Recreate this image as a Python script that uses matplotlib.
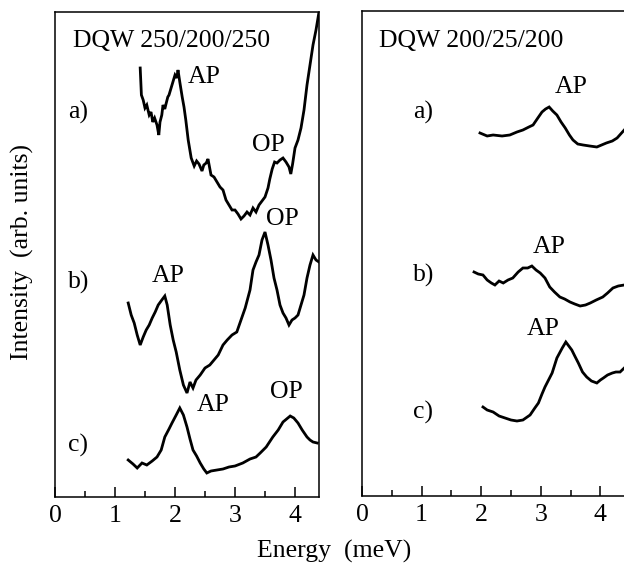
import matplotlib
matplotlib.use("Agg")
import matplotlib.pyplot as plt
from matplotlib.ticker import MultipleLocator

plt.rcParams["font.family"] = ["Liberation Serif", "DejaVu Serif"]

# spectra, intensity in arb. units (height above the baseline)
left_a_x = [1.42, 1.44, 1.47, 1.50, 1.53, 1.57, 1.60, 1.63, 1.66, 1.70, 1.73, 1.75, 1.78, 1.80,
            1.83, 1.85, 1.88, 1.90, 1.93, 1.95, 1.98, 2.00, 2.03, 2.05, 2.08, 2.12, 2.15, 2.18,
            2.22, 2.27, 2.32, 2.36, 2.40, 2.45, 2.48, 2.52, 2.55, 2.60, 2.65, 2.70, 2.75, 2.80,
            2.85, 2.90, 2.95, 3.00, 3.05, 3.10, 3.15, 3.20, 3.25, 3.30, 3.35, 3.40, 3.45, 3.50,
            3.55, 3.58, 3.62, 3.66, 3.70, 3.75, 3.80, 3.85, 3.90, 3.93, 3.96, 4.00, 4.05, 4.10,
            4.15, 4.20, 4.25, 4.30, 4.35, 4.40]
left_a_y = [429, 402, 397, 389, 392, 382, 385, 375, 379, 372, 362, 375, 382, 392,
            388, 393, 400, 402, 408, 412, 418, 422, 419, 427, 415, 400, 390, 377,
            357, 339, 331, 336, 333, 326, 332, 334, 338, 322, 320, 315, 310, 307,
            297, 292, 287, 287, 283, 278, 281, 285, 282, 289, 285, 292, 296, 300,
            309, 318, 328, 335, 334, 337, 339, 335, 330, 323, 333, 349, 357, 369,
            387, 412, 432, 452, 467, 485]

left_b_x = [1.22, 1.27, 1.32, 1.37, 1.42, 1.47, 1.52, 1.57, 1.62, 1.67, 1.72, 1.78, 1.83,
            1.87, 1.92, 1.97, 2.02, 2.08, 2.14, 2.20, 2.25, 2.30, 2.35, 2.42, 2.50, 2.58,
            2.65, 2.72, 2.80, 2.87, 2.95, 3.03, 3.10, 3.17, 3.25, 3.30, 3.35, 3.40, 3.45,
            3.50, 3.55, 3.60, 3.65, 3.70, 3.75, 3.80, 3.85, 3.90, 3.95, 4.00, 4.05, 4.10,
            4.15, 4.20, 4.25, 4.30, 4.35, 4.40]
left_b_y = [194, 182, 174, 162, 152, 160, 167, 172, 179, 185, 192, 197, 201,
            192, 172, 157, 145, 127, 112, 104, 115, 109, 117, 122, 129, 132,
            137, 142, 152, 157, 162, 165, 177, 189, 207, 227, 235, 242, 257,
            265, 252, 237, 219, 207, 192, 184, 179, 172, 177, 179, 182, 192,
            202, 219, 232, 242, 237, 235]

left_c_x = [1.22, 1.30, 1.37, 1.45, 1.53, 1.62, 1.70, 1.77, 1.83, 1.90, 1.95, 2.02, 2.08,
            2.14, 2.20, 2.25, 2.30, 2.36, 2.42, 2.48, 2.53, 2.60, 2.70, 2.80, 2.90, 3.00,
            3.13, 3.25, 3.35, 3.42, 3.52, 3.63, 3.72, 3.80, 3.86, 3.92, 3.98, 4.05, 4.12,
            4.20, 4.25, 4.30, 4.37]
left_c_y = [37, 33, 29, 34, 32, 36, 40, 47, 60, 68, 74, 82, 89,
            82, 70, 58, 47, 41, 34, 28, 24, 26, 27, 28, 30, 31,
            34, 38, 40, 44, 50, 60, 67, 75, 78, 81, 79, 74, 67,
            60, 57, 55, 54]

right_a_x = [1.98, 2.10, 2.20, 2.35, 2.48, 2.60, 2.70, 2.80, 2.87, 2.95, 3.02, 3.08, 3.14,
             3.20, 3.27, 3.34, 3.41, 3.48, 3.54, 3.62, 3.71, 3.82, 3.94, 4.02, 4.10, 4.20,
             4.28, 4.40]
right_a_y = [363, 360, 361, 360, 361, 364, 366, 369, 371, 378, 384, 387, 389,
             385, 381, 374, 368, 361, 356, 352, 351, 350, 349, 351, 353, 355,
             358, 366]

right_b_x = [1.88, 1.95, 2.03, 2.10, 2.17, 2.23, 2.30, 2.37, 2.45, 2.53, 2.62, 2.70, 2.78,
             2.85, 2.92, 2.99, 3.07, 3.15, 3.23, 3.32, 3.40, 3.49, 3.57, 3.66, 3.75, 3.83,
             3.93, 4.04, 4.12, 4.21, 4.30, 4.40]
right_b_y = [224, 222, 221, 216, 213, 211, 215, 213, 216, 218, 224, 228, 228,
             230, 226, 223, 218, 209, 204, 199, 197, 194, 192, 190, 191, 193,
             196, 199, 203, 208, 210, 211]

right_c_x = [2.03, 2.10, 2.20, 2.30, 2.40, 2.50, 2.60, 2.70, 2.82, 2.90, 2.96, 3.02, 3.07,
             3.13, 3.19, 3.27, 3.36, 3.42, 3.47, 3.52, 3.57, 3.63, 3.70, 3.77, 3.85, 3.94,
             4.00, 4.05, 4.12, 4.20, 4.26, 4.33, 4.40]
right_c_y = [89, 86, 84, 80, 78, 76, 75, 76, 81, 88, 93, 102, 109,
             116, 123, 138, 148, 154, 150, 146, 140, 133, 124, 119, 115, 113,
             116, 118, 121, 123, 124, 124, 128]

INK = "black"
FS = 18.5

fig = plt.figure(figsize=(6.24, 5.66), dpi=100)
ax_l = fig.add_axes([55 / 624, 69 / 566, 264 / 624, 485 / 566])
ax_r = fig.add_axes([362 / 624, 70 / 566, 280 / 624, 485 / 566])

for ax, xmax in ((ax_l, 4.4), (ax_r, 280 / 59.6)):
    ax.set_xlim(0, xmax)
    ax.set_ylim(0, 485)
    ax.set_yticks([])
    ax.xaxis.set_major_locator(MultipleLocator(1))
    ax.xaxis.set_minor_locator(MultipleLocator(0.5))
    ax.tick_params(axis="x", which="major", direction="in", length=7.5, width=1.1,
                   labelsize=FS, pad=6, colors=INK)
    ax.tick_params(axis="x", which="minor", direction="in", length=4.5, width=1.1)
    for s in ax.spines.values():
        s.set_linewidth(1.1)
    ax.set_xticks([0, 1, 2, 3, 4])

for ax, xs, ys in ((ax_l, left_a_x, left_a_y), (ax_l, left_b_x, left_b_y),
                   (ax_l, left_c_x, left_c_y), (ax_r, right_a_x, right_a_y),
                   (ax_r, right_b_x, right_b_y), (ax_r, right_c_x, right_c_y)):
    ax.plot(xs, ys, color=INK, lw=2.0, solid_joinstyle="miter")

def px(xp, yp, s, **kw):
    # place text in figure pixel coordinates
    fig.text(xp / 624, 1 - yp / 566, s, fontsize=FS, color=INK, va="center", **kw)

px(73, 41, "DQW 250/200/250")
px(68, 112, "a)")
px(68, 282, "b)")
px(68, 445, "c)")
px(188, 77, "AP")
px(252, 145, "OP")
px(266, 219, "OP")
px(152, 276, "AP")
px(197, 405, "AP")
px(270, 392, "OP")

px(379, 41, "DQW 200/25/200")
px(413, 112, "a)")
px(413, 275, "b)")
px(413, 412, "c)")
px(555, 87, "AP")
px(533, 247, "AP")
px(527, 329, "AP")

fig.text(334 / 624, 1 - 551 / 566, "Energy  (meV)", fontsize=FS, ha="center", va="center")
fig.text(22 / 624, 1 - 252 / 566, "Intensity  (arb. units)", fontsize=FS,
         ha="center", va="center", rotation=90)

fig.savefig("out.png", dpi=100)
